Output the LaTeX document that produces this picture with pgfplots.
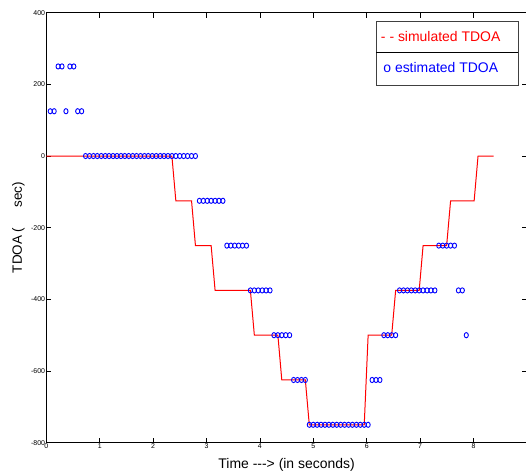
\documentclass[border=0pt]{standalone}
\usepackage{pgfplots}
\pgfplotsset{compat=1.18}
\usepackage{fontspec}
\setmainfont{Liberation Sans}
\begin{document}
\begin{tikzpicture}
\begin{axis}[
  name=ax,
  scale only axis,
  width=480.6bp, height=430bp,
  xmin=0, xmax=9, ymin=-800, ymax=400,
  xtick={0,1,...,8},
  ytick={-800,-600,...,400},
  tick align=inside,
  major tick length=5bp,
  axis line style={line width=1.1bp},
  tick style={line width=0.7bp, black},
  /pgf/number format/assume math mode=true,
  tick label style={font=\fontsize{7}{8}\selectfont, inner sep=1bp},
  xlabel={Time -{}-{}-> (in seconds)},
  ylabel={TDOA (\hspace{20bp}sec)},
  xlabel style={font=\fontsize{14}{16}\selectfont, at={(axis description cs:0.5,-0.059)}, anchor=base},
  ylabel style={font=\fontsize{13.5}{15}\selectfont, at={(axis description cs:-0.058,0.5)}, anchor=center},
]
% simulated TDOA
\addplot[red, line width=1bp] coordinates {
  (0,0) (2.352,0) (2.426,-125) (2.720,-125) (2.793,-250) (3.087,-250)
  (3.161,-375) (3.822,-375) (3.896,-500) (4.337,-500) (4.410,-625)
  (4.851,-625) (4.925,-750) (5.954,-750) (6.027,-500) (6.468,-500)
  (6.542,-375) (6.983,-375) (7.056,-250) (7.497,-250) (7.571,-125)
  (8.012,-125) (8.085,0) (8.379,0)
};
% estimated TDOA
\addplot[only marks, blue, mark=o, mark size=2.6bp, mark options={xscale=0.8, line width=0.9bp}] coordinates {
  (0.074,125) (0.147,125) (0.221,250) (0.294,250) (0.368,125) (0.441,250) (0.515,250) (0.588,125) (0.662,125)
  (0.735,0) (0.809,0) (0.882,0) (0.956,0) (1.029,0) (1.103,0) (1.176,0) (1.250,0) (1.323,0) (1.397,0)
  (1.470,0) (1.544,0) (1.617,0) (1.691,0) (1.764,0) (1.838,0) (1.911,0) (1.985,0) (2.058,0) (2.132,0)
  (2.205,0) (2.279,0) (2.352,0) (2.426,0) (2.499,0) (2.573,0) (2.646,0) (2.720,0) (2.793,0)
  (2.867,-125) (2.940,-125) (3.014,-125) (3.087,-125) (3.161,-125) (3.234,-125) (3.308,-125)
  (3.381,-250) (3.455,-250) (3.528,-250) (3.602,-250) (3.675,-250) (3.749,-250)
  (3.822,-375) (3.896,-375) (3.969,-375) (4.043,-375) (4.116,-375) (4.190,-375)
  (4.263,-500) (4.337,-500) (4.410,-500) (4.484,-500) (4.557,-500)
  (4.631,-625) (4.704,-625) (4.778,-625) (4.851,-625)
  (4.925,-750) (4.998,-750) (5.072,-750) (5.145,-750) (5.219,-750) (5.292,-750) (5.366,-750) (5.439,-750)
  (5.513,-750) (5.586,-750) (5.660,-750) (5.733,-750) (5.807,-750) (5.880,-750) (5.954,-750) (6.027,-750)
  (6.101,-625) (6.174,-625) (6.248,-625)
  (6.321,-500) (6.395,-500) (6.468,-500) (6.542,-500)
  (6.615,-375) (6.689,-375) (6.762,-375) (6.836,-375) (6.909,-375) (6.983,-375) (7.056,-375) (7.130,-375)
  (7.203,-375) (7.277,-375)
  (7.350,-250) (7.424,-250) (7.497,-250) (7.571,-250) (7.644,-250)
  (7.718,-375) (7.791,-375)
  (7.865,-500)
};
% legend box
\draw[line width=0.8bp, black!75, fill=white] (rel axis cs:0.687,0.830) rectangle (rel axis cs:0.9815,0.979);
\draw[line width=1bp, black] (rel axis cs:0.687,0.907) -- (rel axis cs:0.9815,0.907);
\node[anchor=base west, inner sep=0pt, text=red, font=\fontsize{14}{16}\selectfont] at (rel axis cs:0.696,0.9326) {-{} -{} simulated TDOA};
\node[anchor=base west, inner sep=0pt, text=blue, font=\fontsize{14}{16}\selectfont] at (rel axis cs:0.701,0.8605) {o estimated TDOA};
\end{axis}
\pgfresetboundingbox
\path ([shift={(-46.3bp,-31.3bp)}]ax.south west) rectangle ([shift={(479.7bp,442.7bp)}]ax.south west);
\end{tikzpicture}
\end{document}
